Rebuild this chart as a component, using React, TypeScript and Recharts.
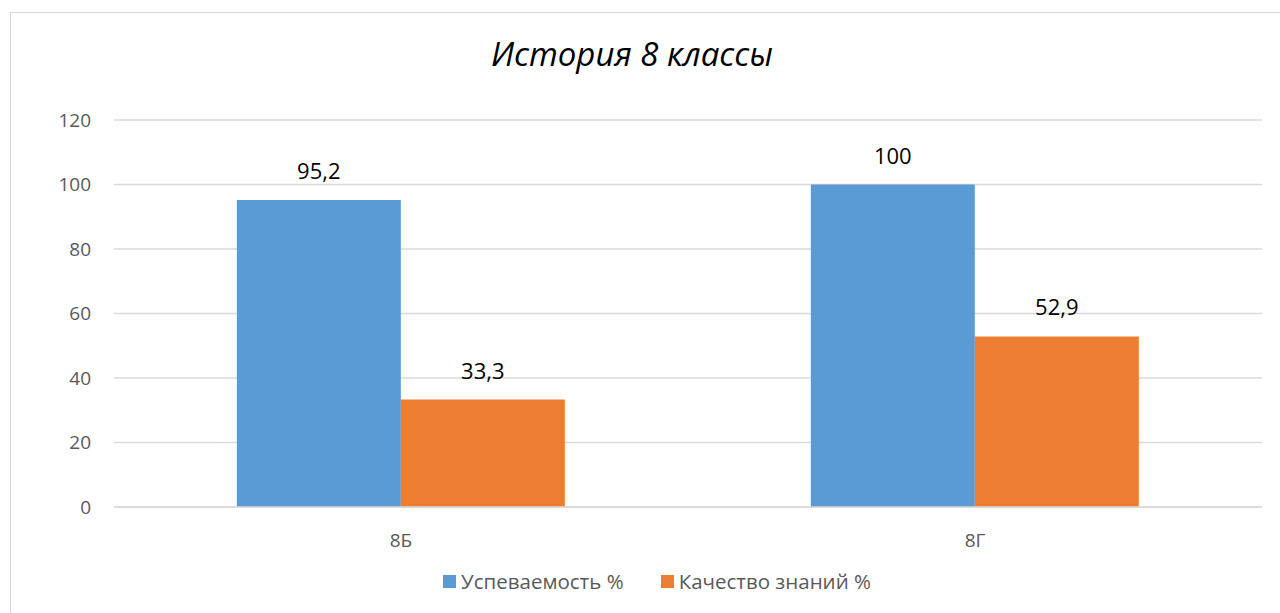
import { BarChart, Bar, XAxis, YAxis, CartesianGrid, LabelList } from 'recharts';

const classes = ['8Б', '8Г'];
const passRate = [95.2, 100];
const qualityRate = [33.3, 52.9];
const yTicks = [0, 20, 40, 60, 80, 100, 120];

const seriesNames = ['Успеваемость %', 'Качество знаний %'];
const seriesColors = ['#5B9BD5', '#ED7D31'];

const data = classes.map((name, i) => ({
  name,
  pass: passRate[i],
  quality: qualityRate[i],
}));

const FONT = '"Open Sans", sans-serif';

const formatValue = (v: any) => String(v).replace('.', ',');

export default function App() {
  return (
    <div style={{ position: 'absolute', left: 0, top: 0, width: 1280, height: 613, overflow: 'hidden', background: '#fff' }}>
      <div
        style={{
          position: 'absolute',
          left: 10,
          top: 12,
          width: 1300,
          height: 640,
          border: '1.5px solid #d9d9d9',
        }}
      />
      <div
        style={{
          position: 'absolute',
          left: 0,
          top: 31,
          width: 1264,
          textAlign: 'center',
          fontFamily: FONT,
          fontStyle: 'italic',
          fontSize: 33,
          color: '#000',
        }}
      >
        История 8 классы
      </div>
      <div style={{ position: 'absolute', left: 0, top: 0 }}>
        <BarChart
          width={1280}
          height={613}
          data={data}
          margin={{ top: 120, right: 18, left: 0, bottom: 76 }}
          barCategoryGap="21.4%"
          barGap={0}
        >
          <CartesianGrid vertical={false} stroke="#d9d9d9" strokeWidth={1.3} />
          <XAxis
            dataKey="name"
            axisLine={{ stroke: '#d9d9d9', strokeWidth: 1.3 }}
            tickLine={false}
            tickMargin={21}
            height={30}
            tick={{ fontSize: 19, fill: '#595959', fontFamily: FONT }}
          />
          <YAxis
            domain={[0, 120]}
            ticks={yTicks}
            axisLine={false}
            tickLine={false}
            width={114}
            tickMargin={17}
            tick={{ fontSize: 19, fill: '#595959', fontFamily: FONT }}
          />
          <Bar dataKey="pass" name={seriesNames[0]} fill={seriesColors[0]} isAnimationActive={false}>
            <LabelList
              dataKey="pass"
              position="top"
              offset={21}
              formatter={formatValue}
              style={{ fontSize: 22, fill: '#000', fontFamily: FONT }}
            />
          </Bar>
          <Bar dataKey="quality" name={seriesNames[1]} fill={seriesColors[1]} isAnimationActive={false}>
            <LabelList
              dataKey="quality"
              position="top"
              offset={21}
              formatter={formatValue}
              style={{ fontSize: 22, fill: '#000', fontFamily: FONT }}
            />
          </Bar>
        </BarChart>
      </div>
      <div
        style={{
          position: 'absolute',
          left: 0,
          top: 567,
          width: 1314,
          display: 'flex',
          justifyContent: 'center',
          fontFamily: FONT,
          fontSize: 20.5,
          color: '#595959',
        }}
      >
        {seriesNames.map((n, i) => (
          <div key={n} style={{ display: 'flex', alignItems: 'center', marginRight: i === 0 ? 37 : 0 }}>
            <span style={{ display: 'inline-block', width: 13, height: 13, background: seriesColors[i], marginRight: 5 }} />
            <span>{n}</span>
          </div>
        ))}
      </div>
    </div>
  );
}
